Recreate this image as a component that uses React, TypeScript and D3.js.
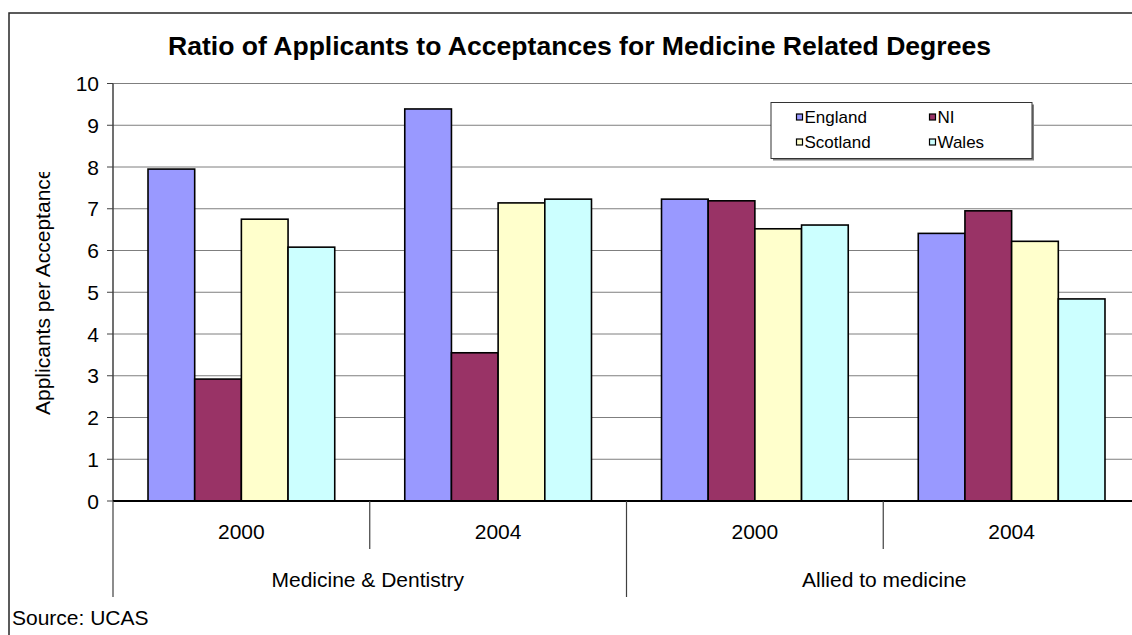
import React from "react";
import * as d3 from "d3";

// Chart data
const groups = ["Medicine & Dentistry", "Allied to medicine"];
const years = ["2000", "2004"];
const series = ["England", "NI", "Scotland", "Wales"];
const seriesColors = ["#9999FF", "#993366", "#FFFFCC", "#CCFFFF"];

// Applicants per acceptance, one array per category (group/year), in series order
const medicine2000 = [7.95, 2.92, 6.75, 6.08];
const medicine2004 = [9.39, 3.55, 7.14, 7.23];
const allied2000 = [7.23, 7.19, 6.52, 6.61];
const allied2004 = [6.41, 6.95, 6.22, 4.84];

const categoryValues = [medicine2000, medicine2004, allied2000, allied2004];
const yTicks = [0, 1, 2, 3, 4, 5, 6, 7, 8, 9, 10];

const W = 1132;
const H = 635;
const FONT = "'Liberation Sans', Arial, Helvetica, sans-serif";

export default function App() {
  const plotLeft = 113;
  const plotRight = 1140;
  const plotTop = 83.5;
  const plotBottom = 501;

  const categories = groups.flatMap((g) => years.map((yr) => `${g}|${yr}`));

  const x0 = d3.scaleBand<string>().domain(categories).range([plotLeft, plotRight]).paddingInner(0).paddingOuter(0);
  const x1 = d3.scaleBand<string>().domain(series).range([0, x0.bandwidth()]).paddingInner(0).paddingOuter(0.75);
  const y = d3.scaleLinear().domain([0, 10]).range([plotBottom, plotTop]);

  const groupSpan = x0.bandwidth() * years.length;

  return (
    <svg
      width={W}
      height={H}
      style={{ position: "absolute", left: 0, top: 0, display: "block", background: "#fff" }}
      fontFamily={FONT}
    >
      <defs>
        <clipPath id="ytitle-clip">
          <rect x={0} y={172} width={110} height={400} />
        </clipPath>
      </defs>
      <rect x={0} y={0} width={W} height={H} fill="#fff" />
      {/* chart area border */}
      <rect x={9} y={13} width={1160} height={700} fill="none" stroke="#262626" strokeWidth={1.5} />

      {/* title */}
      <text
        x={579.5}
        y={54.5}
        textAnchor="middle"
        fontSize={26}
        fontWeight="bold"
        textLength={823}
        lengthAdjust="spacingAndGlyphs"
        fill="#000"
      >
        Ratio of Applicants to Acceptances for Medicine Related Degrees
      </text>

      {/* gridlines */}
      {yTicks.filter((t) => t > 0).map((t) => (
        <line key={`g${t}`} x1={plotLeft} x2={plotRight} y1={y(t)} y2={y(t)} stroke="#7f7f7f" strokeWidth={1} />
      ))}

      {/* bars */}
      {categories.map((c, ci) => (
        <g key={c}>
          {series.map((s, si) => {
            const v = categoryValues[ci][si];
            return (
              <rect
                key={s}
                x={(x0(c) ?? 0) + (x1(s) ?? 0)}
                y={y(v)}
                width={x1.bandwidth()}
                height={y(0) - y(v)}
                fill={seriesColors[si]}
                stroke="#000"
                strokeWidth={1.6}
              />
            );
          })}
        </g>
      ))}

      {/* y axis */}
      <line x1={plotLeft} x2={plotLeft} y1={plotTop} y2={plotBottom} stroke="#404040" strokeWidth={1.5} />
      {yTicks.map((t) => (
        <g key={`t${t}`}>
          <line x1={plotLeft - 6} x2={plotLeft} y1={y(t)} y2={y(t)} stroke="#404040" strokeWidth={1} />
          <text x={99} y={y(t) + 7.5} textAnchor="end" fontSize={21} fill="#000">
            {t}
          </text>
        </g>
      ))}

      {/* y axis title (clipped at its top end) */}
      <g clipPath="url(#ytitle-clip)">
        <text
          transform={`translate(50, ${415}) rotate(-90)`}
          textAnchor="start"
          fontSize={21}
          fill="#000"
        >
          Applicants per Acceptance
        </text>
      </g>

      {/* x axis */}
      <line x1={plotLeft} x2={plotRight} y1={plotBottom} y2={plotBottom} stroke="#000" strokeWidth={2} />
      {categories.map((c, ci) => {
        const left = x0(c) ?? 0;
        const isGroupStart = ci % years.length === 0;
        return (
          <g key={`xl${c}`}>
            <line
              x1={left}
              x2={left}
              y1={plotBottom}
              y2={isGroupStart ? 597 : 549}
              stroke="#404040"
              strokeWidth={1.2}
            />
            <text x={left + x0.bandwidth() / 2} y={539} textAnchor="middle" fontSize={21} fill="#000">
              {c.split("|")[1]}
            </text>
          </g>
        );
      })}
      <line x1={plotRight} x2={plotRight} y1={plotBottom} y2={597} stroke="#404040" strokeWidth={1.2} />
      {groups.map((g, gi) => {
        const left = x0(`${g}|${years[0]}`) ?? 0;
        return (
          <text key={`gl${g}`} x={left + groupSpan / 2 + (gi === 0 ? -2 : 1)} y={587} textAnchor="middle" fontSize={21} fill="#000">
            {g}
          </text>
        );
      })}

      {/* legend */}
      <rect x={773} y={104.5} width={261} height={56} fill="#808080" />
      <rect x={771} y={102.5} width={261} height={56} fill="#fff" stroke="#333" strokeWidth={1} />
      {series.map((s, i) => {
        const col = i % 2;
        const row = Math.floor(i / 2);
        const mx = col === 0 ? 796.5 : 929.5;
        const cy = row === 0 ? 117 : 142;
        return (
          <g key={`lg${s}`}>
            <rect x={mx} y={cy - 3} width={6} height={6} fill={seriesColors[i]} stroke="#000" strokeWidth={1.2} />
            <text x={mx + 8} y={cy + 5.5} fontSize={17} fill="#000">
              {s}
            </text>
          </g>
        );
      })}

      {/* source note */}
      <text x={12} y={625} fontSize={21} fill="#000">
        Source: UCAS
      </text>
    </svg>
  );
}
